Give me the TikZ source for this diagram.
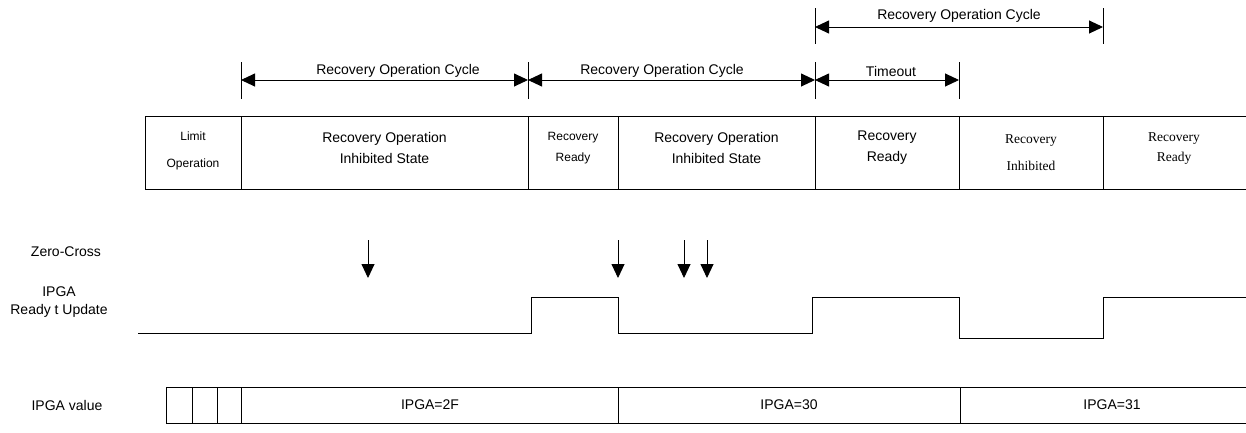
\documentclass[tikz,border=0pt]{standalone}
\usepackage{fontspec}
\setmainfont{Liberation Sans}
\newfontfamily\tnr{Liberation Serif}
\usetikzlibrary{arrows.meta}

\tikzset{
  dimline/.style={{Triangle[length=14pt,width=13pt]}-{Triangle[length=14pt,width=13pt]}},
  zcarrow/.style={-{Triangle[length=14pt,width=13pt]}},
  bigtxt/.style={font=\fontsize{14}{21}\selectfont, align=center},
  smalltxt/.style={font=\fontsize{12}{21}\selectfont, align=center},
  timestxt/.style={font=\tnr\fontsize{13.5}{27}\selectfont, align=center}
}

\begin{document}
\begin{tikzpicture}[x=1pt,y=-1pt,line width=0.9pt]
\tikzstyle{every node}+=[inner sep=0pt]
\useasboundingbox (0,0) rectangle (1246,432);

% dimension marks
\coordinate (c0) at (241,80);
\coordinate (c1) at (528,80);
\coordinate (c2) at (815,80);
\coordinate (c3) at (959,80);
\coordinate (u0) at (815,27);
\coordinate (u1) at (1103,27);
\draw (241,62) -- (241,99);
\draw (528,62) -- (528,99);
\draw (815,62) -- (815,99);
\draw (959,62) -- (959,99);
\draw (815,8) -- (815,44);
\draw (1103,8) -- (1103,44);
\draw [dimline] (c0) -- (c1);
\draw [dimline] (c1) -- (c2);
\draw [dimline] (c2) -- (c3);
\draw [dimline] (u0) -- (u1);
\node [bigtxt] (cyc1) at (398,71) {Recovery Operation Cycle};
\node [bigtxt] (cyc2) at (662,71) {Recovery Operation Cycle};
\node [bigtxt] (tout) at (891,71) {Timeout};
\node [bigtxt] (cyc3) at (959,16) {Recovery Operation Cycle};

% state table
\draw (1246,116) -- (145,116) -- (145,189) -- (1246,189);
\foreach \x in {241,528,618,815,959,1103}
  \draw (\x,116) -- (\x,189);
\node [smalltxt, font=\fontsize{12}{27}\selectfont] (limit) at (193,151) {Limit\\Operation};
\node [bigtxt] (inh1) at (384.5,148) {Recovery Operation\\Inhibited State};
\node [smalltxt] (rdy1) at (573,148) {Recovery\\Ready};
\node [bigtxt] (inh2) at (716.5,148) {Recovery Operation\\Inhibited State};
\node [bigtxt] (rdy2) at (887,148) {Recovery\\Ready};
\node [timestxt] (inh3) at (1031,153) {Recovery\\Inhibited};
\node [timestxt, font=\tnr\fontsize{13.5}{20}\selectfont] (rdy3) at (1174,149) {Recovery\\Ready};

% signal names
\node [bigtxt] (zc) at (66,252) {Zero-Cross};
\node [bigtxt, font=\fontsize{14}{18}\selectfont] (rdysig) at (59,302) {IPGA\\Ready t Update};
\node [bigtxt] (val) at (67,405) {IPGA value};

% zero-cross events
\foreach \x in {368,618,684,707}
  \draw [zcarrow] (\x,240) -- (\x,278);

% ready to update
\draw (138,333) -- (531,333) -- (531,297) -- (618,297) -- (618,333) -- (812,333)
  -- (812,297) -- (959,297) -- (959,338) -- (1103,338) -- (1103,297) -- (1246,297);

% IPGA value
\draw (1246,387) -- (166,387) -- (166,423) -- (1246,423);
\foreach \x in {192,217,241,618,960}
  \draw (\x,387) -- (\x,423);
\node [bigtxt] (v2f) at (430,405) {IPGA=2F};
\node [bigtxt] (v30) at (789,405) {IPGA=30};
\node [bigtxt] (v31) at (1112,405) {IPGA=31};
\end{tikzpicture}
\end{document}
